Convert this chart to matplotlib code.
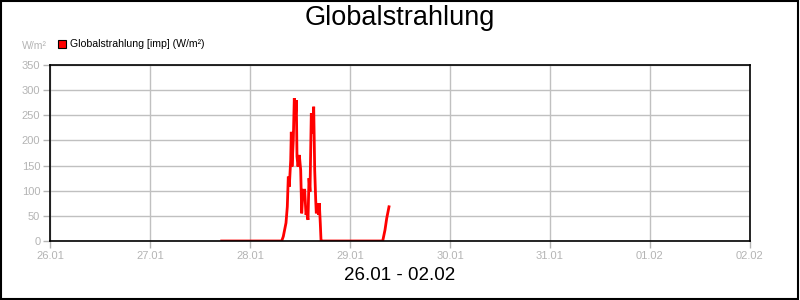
"""Globalstrahlung chart, 26.01 - 02.02."""

import matplotlib.pyplot as plt
from matplotlib.patches import Rectangle

plt.rcParams["font.family"] = ["Liberation Sans", "DejaVu Sans"]

# time in days since 26.01 00:00
times = [
    1.717, 2.317, 2.333, 2.36, 2.373, 2.383, 2.393, 2.407, 2.413, 2.42, 2.433,
    2.443, 2.453, 2.463, 2.47, 2.48, 2.493, 2.507, 2.517, 2.53, 2.547, 2.56,
    2.567, 2.58, 2.59, 2.60, 2.613, 2.627, 2.637, 2.647, 2.657, 2.663, 2.677,
    2.687, 2.693, 2.703, 2.71, 2.723, 2.74, 3.327, 3.35, 3.367, 3.39,
]
radiation = [
    0, 0, 9, 36, 68, 128, 108, 161, 217, 148, 201,
    284, 240, 280, 168, 148, 171, 141, 55, 101, 101, 52,
    58, 42, 125, 98, 254, 214, 267, 141, 82, 55, 75,
    52, 75, 35, 2, 0, 0, 0, 22, 45, 68,
]
day_ticks = ["26.01", "27.01", "28.01", "29.01", "30.01", "31.01", "01.02", "02.02"]
value_ticks = [0, 50, 100, 150, 200, 250, 300, 350]

tick_grey = "#b4b4b4"
grid_grey = "#c0c0c0"

fig = plt.figure(figsize=(8, 3), dpi=100)
fig.patches.append(Rectangle((0.001, 0.002), 0.997, 0.995, transform=fig.transFigure,
                             fill=False, edgecolor="black", linewidth=1.5))

ax = fig.add_axes([0.0625, 0.1967, 0.875, 0.5867])
ax.plot(times, radiation, color="#ff0000", linewidth=2, solid_joinstyle="miter")

ax.set_xlim(0, len(day_ticks) - 1)
ax.set_ylim(0, 350)
ax.set_xticks(range(len(day_ticks)))
ax.set_xticklabels(day_ticks)
ax.set_yticks(value_ticks)
ax.grid(True, color=grid_grey, linewidth=1)
ax.set_axisbelow(True)
ax.tick_params(colors=tick_grey, labelcolor=tick_grey, labelsize=8, length=5, width=1, pad=2)
for side in ax.spines.values():
    side.set_color("black")
    side.set_linewidth(1.2)

fig.text(0.5, 0.94, "Globalstrahlung", ha="center", va="center", fontsize=19.5)
fig.text(0.5, 0.083, "26.01 - 02.02", ha="center", va="center", fontsize=13.5)
fig.text(0.0275, 0.847, "W/m²", ha="left", va="center", fontsize=7.6, color=tick_grey)
fig.patches.append(Rectangle((0.0725, 0.84), 0.0095, 0.028, transform=fig.transFigure,
                             facecolor="#ff0000", edgecolor="black", linewidth=0.8))
fig.text(0.0875, 0.853, "Globalstrahlung [imp] (W/m²)", ha="left", va="center", fontsize=7.6)

fig.savefig("out.png")
plt.close(fig)
